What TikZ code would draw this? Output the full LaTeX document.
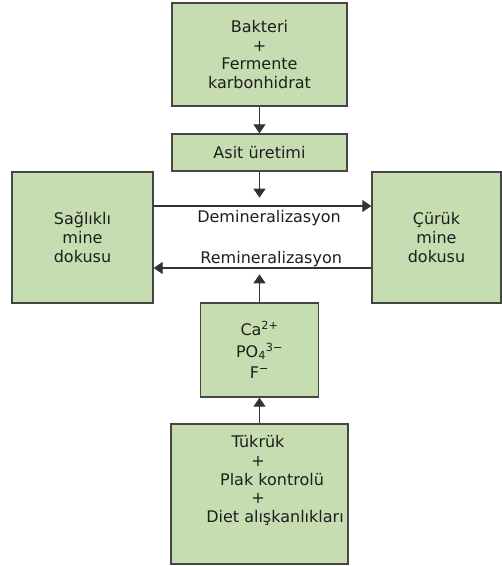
\documentclass[tikz,border=0pt]{standalone}
\usepackage{fontspec}
\setmainfont{DejaVu Sans}
\usetikzlibrary{arrows.meta,positioning}
\definecolor{boxfill}{HTML}{C6DDB1}
\definecolor{boxline}{HTML}{454545}
\definecolor{flow}{HTML}{333333}
\definecolor{ink}{HTML}{1E1E1E}
\tikzset{
  % ---- kutular ---------------------------------------------------
  kutu/.style     = {rectangle, draw=boxline, fill=boxfill, line width=1.4pt,
                     inner sep=0pt, align=center, text=ink,
                     font=\fontsize{16}{18.7}\selectfont},
  metin/.style    = {align=center, text=ink, inner sep=0pt,
                     font=\fontsize{16}{18.7}\selectfont},
  % ---- oklar -----------------------------------------------------
  ok/.style       = {draw=flow, line width=1.3pt,
                     -{Triangle[length=9pt,width=12pt]}},
  oketiket/.style = {font=\fontsize{16}{18.7}\selectfont, text=ink,
                     inner sep=1pt},
}
\begin{document}
\begin{tikzpicture}[x=1pt,y=-1pt]
  \useasboundingbox (0,0) rectangle (502,566);
  \node[kutu, minimum width=175pt, minimum height=103pt] (bakteri) at (259.5,54.5) {Bakteri\\+\\Fermente\\karbonhidrat};
  \node[kutu, minimum width=175pt, minimum height=37pt] (asit) at (259.5,152.5) {Asit üretimi};
  \node[kutu, minimum width=141pt, minimum height=131pt] (saglikli) at (82.5,237.5) {Sağlıklı\\mine\\dokusu};
  \node[kutu, minimum width=129pt, minimum height=131pt] (curuk) at (436.5,237.5) {Çürük\\mine\\dokusu};
  \node[kutu, minimum width=118pt, minimum height=94pt] (iyon) at (259.5,350) {Ca\textsuperscript{2+}\\[3pt]PO\textsubscript{4}\textsuperscript{3−}\\[3pt]F\textsuperscript{−}};
  \node[kutu, minimum width=177pt, minimum height=140pt] (tukruk) at (259.5,494) {};
  \node[metin] (tukrukmetin) at ([yshift=13.5pt,xshift=-1.5pt]tukruk.center) {Tükrük\\+\\\hspace*{28pt}Plak kontrolü\\+\\\hspace*{34pt}Diet alışkanlıkları};
  \coordinate (asitucu) at ([yshift=-26pt]asit.south);
  \coordinate (iyonucu) at ([yshift=28pt]iyon.north);
  \draw[ok] (bakteri) -- (asit);
  \draw[ok] (asit.south) -- (asitucu);
  \draw[ok] ([yshift=31.5pt]saglikli.east) -- ([yshift=31.5pt]curuk.west)
    node[oketiket, pos=0.53, below=3pt] {Demineralizasyon};
  \draw[ok] ([yshift=-30.5pt]curuk.west) -- ([yshift=-30.5pt]saglikli.east)
    node[oketiket, pos=0.46, above=0pt] {Remineralizasyon};
  \draw[ok] (tukruk) -- (iyon);
  \draw[ok] (iyon.north) -- (iyonucu);
\end{tikzpicture}
\end{document}
